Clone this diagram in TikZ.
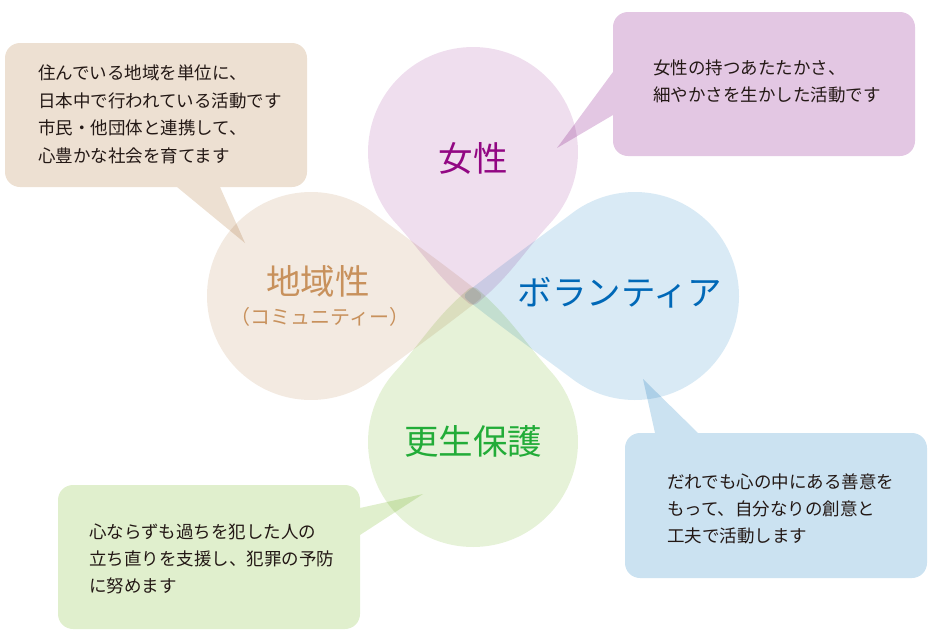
\documentclass[tikz,border=0pt]{standalone}
\usepackage{fontspec}
\usepackage{tikz}
\newfontfamily\cjk{Noto Sans CJK JP}

\definecolor{joseiPetal}{HTML}{EFDEEE}
\definecolor{volPetal}{HTML}{D9EAF5}
\definecolor{koseiPetal}{HTML}{E6F2D8}
\definecolor{chiikiPetal}{HTML}{F3EAE1}
\definecolor{joseiBox}{HTML}{E3C7E3}
\definecolor{volBox}{HTML}{CBE2F1}
\definecolor{koseiBox}{HTML}{E0EFCD}
\definecolor{chiikiBox}{HTML}{EDE0D2}
\definecolor{joseiText}{HTML}{920783}
\definecolor{volText}{HTML}{0068B7}
\definecolor{koseiText}{HTML}{22AC38}
\definecolor{chiikiText}{HTML}{C8915C}
\definecolor{bodyText}{HTML}{231815}

\begin{document}
\begin{tikzpicture}[x=1pt,y=-1pt]
\tikzstyle{petal}=[blend mode=multiply]
\tikzstyle{bubble}=[blend mode=multiply]
\tikzstyle{head}=[font=\cjk\fontsize{34.5}{34.5}\selectfont, inner sep=0pt]
\tikzstyle{body}=[font=\cjk\fontsize{17.5}{27}\selectfont, align=left, inner sep=0pt, text=bodyText, anchor=west]

\useasboundingbox (0,0) rectangle (940,640);

% four drop shaped petals, tips meet in the middle
\foreach \tx/\ty/\rot/\D/\r/\bump/\col in {473/307/90/155/105/6/joseiPetal, 462/296/0/173/104/1/volPetal, 473/285/-90/157/105/6/koseiPetal, 484/296/180/173/104/1/chiikiPetal}
{
  \pgfmathsetmacro\al{asin(\r/\D)}
  \pgfmathsetmacro\be{\al+\bump}
  \pgfmathsetmacro\Tx{\D-\r*sin(\al)}
  \pgfmathsetmacro\Ty{\r*cos(\al)}
  \pgfmathsetmacro\L{0.45*veclen(\Tx,\Ty)}
  \fill[petal, fill=\col, shift={(\tx,\ty)}, rotate=\rot] (\be:12) .. controls (\be:\L) and (0.7*\Tx,0.7*\Ty) .. (\Tx,\Ty) arc[start angle=90+\al, end angle=-90-\al, radius=\r] .. controls (0.7*\Tx,-0.7*\Ty) and (-\be:\L) .. (-\be:12) [rounded corners=6pt] -- (0,0) -- cycle;
}

% speech bubbles
\fill[bubble, fill=chiikiBox] [rounded corners=15pt] (5,43) rectangle (307,187) [sharp corners] (177,187) -- (245,243) -- (220,187) -- cycle;
\fill[bubble, fill=joseiBox] [rounded corners=15pt] (613,12) rectangle (915,156) [sharp corners] (613,72) -- (557,148) -- (613,115) -- cycle;
\fill[bubble, fill=volBox] [rounded corners=15pt] (625,433) rectangle (927,578) [sharp corners] (655,433) -- (643,379) -- (698,433) -- cycle;
\fill[bubble, fill=koseiBox] [rounded corners=15pt] (58,485) rectangle (360,629) [sharp corners] (360,508) -- (423,494) -- (360,535) -- cycle;

% petal labels
\node (josei) at (473,158) [head, text=joseiText] {女性};
\node (vol) at (620,293) [head, text=volText] {ボランティア};
\node (kosei) at (473,441) [head, text=koseiText] {更生保護};
\node (chiiki) at (318,281) [head, text=chiikiText] {地域性};
\node (comm) at (320,317) [inner sep=0pt, text=chiikiText, font=\cjk\fontsize{20}{20}\selectfont] {（コミュニティー）};

% bubble texts
\node (chiikiNote) at (38,114.5) [body, font=\cjk\fontsize{17.5}{27.5}\selectfont] {住んでいる地域を単位に、\\日本中で行われている活動です\\市民・他団体と連携して、\\心豊かな社会を育てます};
\node (joseiNote) at (653,81.5) [body] {女性の持つあたたかさ、\\細やかさを生かした活動です};
\node (volNote) at (667,509) [body] {だれでも心の中にある善意を\\もって、自分なりの創意と\\工夫で活動します};
\node (koseiNote) at (89,558.5) [body] {心ならずも過ちを犯した人の\\立ち直りを支援し、犯罪の予防\\に努めます};
\end{tikzpicture}
\end{document}
